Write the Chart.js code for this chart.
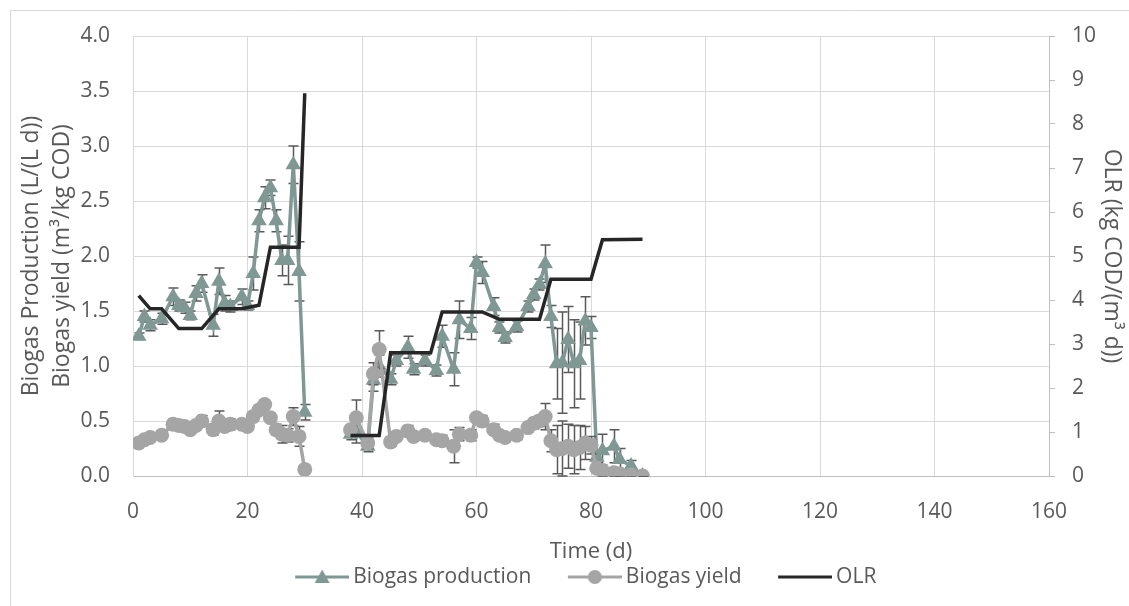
<!DOCTYPE html>
<html>
<head>
<meta charset="utf-8">
<script src="https://cdn.jsdelivr.net/npm/chart.js@4.4.1/dist/chart.umd.min.js"></script>
<style>
  body { margin: 0; background: #fff; }
  #wrap { width: 1129px; height: 606px; }
</style>
</head>
<body>
<div id="wrap"><canvas id="chart" width="1129" height="606"></canvas></div>
<script>
// sampling days (two runs, pause between day 30 and 38)
const days = [1, 2, 3, 5, 7, 8, 9, 10, 11, 12, 14, 15, 16, 17, 19, 20, 21, 22, 23, 24, 25, 26, 27, 28, 29, 30,
  38, 39, 41, 42, 43, 45, 46, 48, 49, 51, 53, 54, 56, 57, 59, 60, 61, 63, 64, 65, 67, 69, 70, 71, 72,
  73, 74, 75, 76, 77, 78, 79, 80, 81, 82, 84, 85, 87, 89];
const pauseDay = 34;

// biogas production L/(L d)
const prodValues = [1.27, 1.45, 1.37, 1.43, 1.63, 1.55, 1.53, 1.46, 1.66, 1.75, 1.37, 1.77, 1.57, 1.54, 1.63, 1.55, 1.84, 2.32, 2.53, 2.62, 2.32, 1.96, 1.96, 2.83, 1.86, 0.58,
  0.38, 0.40, 0.27, 0.87, 1.00, 0.88, 1.05, 1.17, 0.97, 1.05, 0.96, 1.27, 0.97, 1.42, 1.34, 1.94, 1.85, 1.54, 1.35, 1.26, 1.36, 1.54, 1.65, 1.74, 1.93,
  1.45, 1.02, 1.03, 1.24, 1.02, 1.05, 1.41, 1.35, 0.17, 0.23, 0.27, 0.15, 0.09, 0.00];
const prodErr = [0.03, 0.05, 0.05, 0.05, 0.08, 0.05, 0.05, 0.04, 0.07, 0.08, 0.10, 0.12, 0.07, 0.05, 0.07, 0.04, 0.15, 0.10, 0.10, 0.07, 0.10, 0.14, 0.22, 0.17, 0.27, 0.07,
  0.05, 0.10, 0.05, 0.10, 0.10, 0.05, 0.05, 0.10, 0.05, 0.05, 0.05, 0.10, 0.15, 0.17, 0.10, 0.05, 0.10, 0.08, 0.05, 0.05, 0.05, 0.05, 0.05, 0.05, 0.17,
  0.10, 0.32, 0.46, 0.30, 0.40, 0.35, 0.22, 0.10, 0.05, 0.15, 0.15, 0.10, 0.05, 0.02];

// biogas yield m3/kg COD
const yieldValues = [0.30, 0.33, 0.35, 0.37, 0.47, 0.46, 0.45, 0.42, 0.46, 0.50, 0.42, 0.50, 0.45, 0.47, 0.47, 0.45, 0.54, 0.60, 0.65, 0.53, 0.42, 0.38, 0.37, 0.54, 0.36, 0.06,
  0.42, 0.53, 0.30, 0.93, 1.15, 0.31, 0.36, 0.41, 0.36, 0.37, 0.33, 0.32, 0.27, 0.38, 0.37, 0.53, 0.50, 0.42, 0.37, 0.35, 0.37, 0.44, 0.48, 0.50, 0.54,
  0.32, 0.24, 0.25, 0.27, 0.24, 0.26, 0.30, 0.28, 0.07, 0.05, 0.03, 0.02, 0.01, 0.00];
const yieldErr = [0.02, 0.03, 0.03, 0.03, 0.05, 0.03, 0.03, 0.03, 0.04, 0.05, 0.05, 0.09, 0.04, 0.05, 0.04, 0.03, 0.04, 0.03, 0.03, 0.04, 0.05, 0.08, 0.06, 0.08, 0.09, 0.03,
  0.03, 0.16, 0.05, 0.10, 0.17, 0.04, 0.04, 0.05, 0.04, 0.04, 0.04, 0.05, 0.15, 0.06, 0.05, 0.03, 0.05, 0.05, 0.04, 0.04, 0.04, 0.04, 0.05, 0.05, 0.12,
  0.10, 0.22, 0.25, 0.20, 0.22, 0.20, 0.15, 0.08, 0.04, 0.05, 0.04, 0.03, 0.02, 0.01];

// OLR kg COD/(m3 d), right axis
const olrDays = [1, 3, 5, 8, 12, 15, 19, 22, 24, 29, 30, 38, 43, 45, 52, 54, 61, 64, 71, 73, 80, 82, 89];
const olrValues = [4.1, 3.8, 3.8, 3.35, 3.35, 3.8, 3.8, 3.88, 5.2, 5.2, 8.7, 0.92, 0.92, 2.8, 2.8, 3.73, 3.73, 3.56, 3.56, 4.47, 4.47, 5.37, 5.38];

const legendNames = ["Biogas production", "Biogas yield", "OLR"];

const PROD_COLOR = '#7F9894';
const YIELD_COLOR = '#A5A5A5';
const OLR_COLOR = '#262626';
const TEXT = '#595959';

// points, with a null where the reactor was paused so the line breaks
function toPoints(xs, ys, errs) {
  const pts = [], e = [];
  for (let i = 0; i < xs.length; i++) {
    if (i > 0 && xs[i - 1] < pauseDay && xs[i] > pauseDay) {
      pts.push({ x: pauseDay, y: null });
      e.push(null);
    }
    pts.push({ x: xs[i], y: ys[i] });
    e.push(errs ? errs[i] : null);
  }
  return { pts, e };
}

const prod = toPoints(days, prodValues, prodErr);
const yld = toPoints(days, yieldValues, yieldErr);
const olr = toPoints(olrDays, olrValues);

// legend icons: line with marker in the middle
function legendIcon(color, marker) {
  const c = document.createElement('canvas');
  c.width = 93; c.height = 18;
  const g = c.getContext('2d');
  g.strokeStyle = color; g.lineWidth = 3;
  g.beginPath(); g.moveTo(39, 9); g.lineTo(93, 9); g.stroke();
  g.fillStyle = color;
  if (marker === 'triangle') {
    g.beginPath(); g.moveTo(66, 1.5); g.lineTo(73.5, 15); g.lineTo(58.5, 15); g.closePath(); g.fill();
  } else if (marker === 'circle') {
    g.beginPath(); g.arc(66, 9, 7, 0, Math.PI * 2); g.fill();
  }
  return c;
}
const legendIcons = [legendIcon(PROD_COLOR, 'triangle'), legendIcon(YIELD_COLOR, 'circle'), legendIcon(OLR_COLOR, null)];

// error bars under the markers of each series
const errorBars = {
  id: 'errorBars',
  beforeDatasetDraw(chart, args) {
    const ds = chart.data.datasets[args.index];
    if (!ds.errors) return;
    const ys = chart.scales[ds.yAxisID];
    const ctx = chart.ctx;
    ctx.save();
    ctx.strokeStyle = '#595959';
    ctx.lineWidth = 1.5;
    args.meta.data.forEach((pt, i) => {
      const raw = ds.data[i];
      const err = ds.errors[i];
      if (raw.y == null || err == null) return;
      const x = Math.round(pt.x) + 0.5;
      const t = ys.getPixelForValue(raw.y + err);
      const b = ys.getPixelForValue(Math.max(raw.y - err, 0));
      ctx.beginPath();
      ctx.moveTo(x, t); ctx.lineTo(x, b);
      ctx.moveTo(x - 5, t); ctx.lineTo(x + 5, t);
      ctx.moveTo(x - 5, b); ctx.lineTo(x + 5, b);
      ctx.stroke();
    });
    ctx.restore();
  }
};

const frame = {
  id: 'frame',
  beforeDraw(chart) {
    const ctx = chart.ctx;
    ctx.save();
    ctx.fillStyle = '#fff';
    ctx.fillRect(0, 0, chart.width, chart.height);
    ctx.strokeStyle = '#D9D9D9';
    ctx.lineWidth = 1;
    ctx.beginPath();
    ctx.moveTo(10.5, chart.height); ctx.lineTo(10.5, 10.5); ctx.lineTo(chart.width, 10.5);
    ctx.stroke();
    ctx.restore();
  }
};

Chart.defaults.font.family = "'Open Sans'";
Chart.defaults.font.size = 21;
Chart.defaults.color = TEXT;

new Chart("chart", {
  type: "scatter",
  data: {
    datasets: [
      {
        label: legendNames[0],
        data: prod.pts,
        errors: prod.e,
        yAxisID: 'y',
        showLine: true,
        borderColor: PROD_COLOR,
        backgroundColor: PROD_COLOR,
        borderWidth: 3.5,
        pointStyle: 'triangle',
        pointRadius: 9,
        pointBorderWidth: 0,
        order: 2,
      },
      {
        label: legendNames[1],
        data: yld.pts,
        errors: yld.e,
        yAxisID: 'y',
        showLine: true,
        borderColor: YIELD_COLOR,
        backgroundColor: YIELD_COLOR,
        borderWidth: 3.5,
        pointStyle: 'circle',
        pointRadius: 7.5,
        pointBorderWidth: 0,
        order: 1,
      },
      {
        label: legendNames[2],
        data: olr.pts,
        yAxisID: 'y1',
        showLine: true,
        borderColor: OLR_COLOR,
        backgroundColor: OLR_COLOR,
        borderWidth: 3.5,
        pointRadius: 0,
        order: 0,
      },
    ]
  },
  options: {
    responsive: false,
    animation: false,
    devicePixelRatio: 1,
    layout: { padding: { left: 10, right: 0, top: 36, bottom: 8.5 } },
    plugins: {
      tooltip: { enabled: false },
      legend: {
        position: 'bottom',
        labels: {
          usePointStyle: true,
          pointStyleWidth: 80,
          padding: 4,
          color: TEXT,
          font: { size: 21 },
          sort: (a, b) => a.datasetIndex - b.datasetIndex,
          generateLabels(chart) {
            const items = Chart.defaults.plugins.legend.labels.generateLabels(chart);
            items.forEach(it => { it.pointStyle = legendIcons[it.datasetIndex]; });
            return items;
          }
        }
      }
    },
    scales: {
      x: {
        type: 'linear',
        min: 0,
        max: 160,
        afterFit(scale) { scale.height = 86.5; },
        ticks: { stepSize: 20, padding: 23, color: TEXT },
        grid: { color: '#D9D9D9', drawTicks: false },
        border: { color: '#BFBFBF' },
        title: { display: true, text: 'Time (d)', color: TEXT, font: { size: 22, lineHeight: 1.0 }, padding: { top: 0, bottom: 0 } }
      },
      y: {
        position: 'left',
        min: 0,
        max: 4,
        afterFit(scale) { scale.width = 123; },
        ticks: { stepSize: 0.5, padding: 23, color: TEXT, callback: v => v.toFixed(1) },
        grid: { color: '#D9D9D9', drawTicks: false },
        border: { color: '#D9D9D9' },
        title: {
          display: true,
          text: ['Biogas Production (L/(L d))', 'Biogas yield (m³/kg COD)'],
          color: TEXT,
          font: { size: 23, lineHeight: 1.33 },
          padding: { top: 6.5, bottom: 0 }
        }
      },
      y1: {
        position: 'right',
        min: 0,
        max: 10,
        afterFit(scale) { scale.width = 80; },
        ticks: { stepSize: 1, padding: 17, color: TEXT },
        grid: { drawOnChartArea: false, color: '#BFBFBF', tickLength: 6 },
        border: { color: '#BFBFBF' },
        title: {
          display: true,
          text: 'OLR (kg COD/(m³ d))',
          color: TEXT,
          font: { size: 23, lineHeight: 1.33 },
          padding: { top: 2, bottom: 0 }
        }
      }
    }
  },
  plugins: [errorBars, frame]
});
</script>
</body>
</html>
